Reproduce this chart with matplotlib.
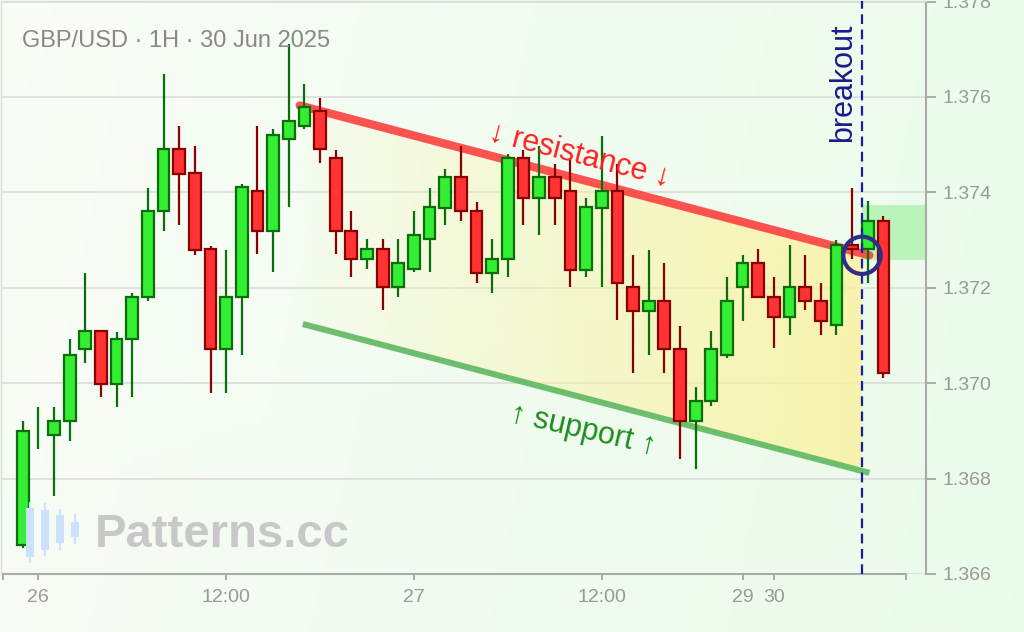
import numpy as np
import matplotlib
matplotlib.use('Agg')
import matplotlib.pyplot as plt
from matplotlib.patches import Polygon, Rectangle
import matplotlib.colors as mcolors

plt.rcParams['font.family'] = ['Liberation Sans', 'DejaVu Sans']
plt.rcParams['lines.scale_dashes'] = False

# ---------------- data ----------------
opens = [1.36661, 1.36900, 1.36891, 1.36920, 1.37071, 1.37110, 1.36999, 1.37092,
         1.37180, 1.37360, 1.37491, 1.37440, 1.37281, 1.37071, 1.37180, 1.37403,
         1.37318, 1.37512, 1.37540, 1.37570, 1.37471, 1.37319, 1.37260, 1.37281,
         1.37201, 1.37239, 1.37302, 1.37368, 1.37432, 1.37361, 1.37230, 1.37260,
         1.37471, 1.37389, 1.37432, 1.37403, 1.37238, 1.37368, 1.37403, 1.37202,
         1.37151, 1.37172, 1.37071, 1.36920, 1.36962, 1.37059, 1.37202, 1.37252,
         1.37181, 1.37139, 1.37202, 1.37172, 1.37121, 1.37289, 1.37282, 1.37340]
highs = [1.36920, 1.36950, 1.36949, 1.37092, 1.37230, 1.37110, 1.37107, 1.37188,
         1.37410, 1.37649, 1.37540, 1.37498, 1.37288, 1.37280, 1.37418, 1.37540,
         1.37532, 1.37711, 1.37628, 1.37598, 1.37489, 1.37360, 1.37302, 1.37302,
         1.37302, 1.37360, 1.37410, 1.37448, 1.37498, 1.37380, 1.37302, 1.37481,
         1.37489, 1.37498, 1.37460, 1.37469, 1.37389, 1.37519, 1.37460, 1.37268,
         1.37280, 1.37251, 1.37120, 1.36991, 1.37109, 1.37223, 1.37268, 1.37281,
         1.37223, 1.37289, 1.37268, 1.37209, 1.37301, 1.37410, 1.37381, 1.37350]
lows = [1.36655, 1.36863, 1.36763, 1.36879, 1.37043, 1.36971, 1.36950, 1.36971,
        1.37172, 1.37319, 1.37332, 1.37269, 1.36980, 1.36980, 1.37059, 1.37270,
        1.37232, 1.37369, 1.37533, 1.37462, 1.37270, 1.37223, 1.37240, 1.37153,
        1.37181, 1.37232, 1.37232, 1.37332, 1.37340, 1.37211, 1.37190, 1.37223,
        1.37332, 1.37311, 1.37332, 1.37202, 1.37223, 1.37202, 1.37132, 1.37022,
        1.37060, 1.37022, 1.36842, 1.36821, 1.36952, 1.37052, 1.37131, 1.37181,
        1.37073, 1.37102, 1.37153, 1.37102, 1.37102, 1.37261, 1.37210, 1.37010]
closes = [1.36900, 1.36900, 1.36921, 1.37059, 1.37110, 1.36999, 1.37093, 1.37181,
          1.37361, 1.37491, 1.37439, 1.37280, 1.37071, 1.37181, 1.37411, 1.37318,
          1.37520, 1.37550, 1.37579, 1.37490, 1.37318, 1.37260, 1.37281, 1.37201,
          1.37252, 1.37311, 1.37369, 1.37432, 1.37360, 1.37230, 1.37260, 1.37471,
          1.37389, 1.37432, 1.37389, 1.37238, 1.37369, 1.37403, 1.37209, 1.37151,
          1.37172, 1.37071, 1.36920, 1.36962, 1.37071, 1.37172, 1.37252, 1.37181,
          1.37139, 1.37202, 1.37172, 1.37130, 1.37289, 1.37282, 1.37340, 1.37022]

x_tick_pos = [1, 13, 25, 37, 46, 48]
x_tick_labels = ['26', '12:00', '27', '12:00', '29', '30']
y_ticks = [1.366, 1.368, 1.370, 1.372, 1.374, 1.376, 1.378]

resistance_x = [17.7, 54.1]
resistance_y = [1.37582, 1.37268]
support_x = [17.9, 54.1]
support_y = [1.37124, 1.36812]
channel_x = [17.85, 53.63]
breakout_x = 53.63
breakout_price = 1.37268
target_low, target_high = 1.37258, 1.37373

title = 'GBP/USD · 1H · 30 Jun 2025'

# ---------------- figure ----------------
W, H = 1024, 632
fig = plt.figure(figsize=(W / 100, H / 100), dpi=100)

# background gradient
bg = fig.add_axes([0, 0, 1, 1], zorder=-10)
gx = np.linspace(0, 1, 256)[None, :]
gy = np.linspace(0, 1, 64)[:, None]
c_left = np.array([0.975, 0.993, 0.968])
c_right = np.array([0.925, 0.990, 0.925])
img = c_left[None, None, :] * (1 - gx[..., None]) + c_right[None, None, :] * gx[..., None]
img = img * np.ones((64, 1, 1))
img = img - 0.006 * gy[..., None]
bg.imshow(np.clip(img, 0, 1), aspect='auto', extent=[0, 1, 0, 1], origin='upper')
bg.axis('off')

ax_l, ax_r = 1, 926
ax_t, ax_b = 1.5, 574
ax = fig.add_axes([ax_l / W, 1 - ax_b / H, (ax_r - ax_l) / W, (ax_b - ax_t) / H])
ax.set_facecolor('none')

o = np.array(opens); h = np.array(highs); l = np.array(lows); c = np.array(closes)
idx = np.arange(len(o))
up = c >= o

# channel gradient fill
def lin(xs, ys, x):
    return ys[0] + (ys[1] - ys[0]) * (x - xs[0]) / (xs[1] - xs[0])
x0, x1 = channel_x
poly_pts = [(x0, lin(resistance_x, resistance_y, x0)), (x1, lin(resistance_x, resistance_y, x1)),
            (x1, lin(support_x, support_y, x1)), (x0, lin(support_x, support_y, x0))]
rgba = np.zeros((1, 256, 4))
rgba[..., :3] = mcolors.to_rgb('#fbf19c')
rgba[..., 3] = 0.03 + 0.75 * np.linspace(0, 1, 256) ** 0.9
poly = Polygon(poly_pts, closed=True, facecolor='none', edgecolor='none')
ax.add_patch(poly)
im = ax.imshow(rgba, extent=[x0, x1, 1.366, 1.378], aspect='auto', origin='lower',
               zorder=1, interpolation='bilinear')
im.set_clip_path(poly)

# target zone
ax.add_patch(Rectangle((breakout_x, target_low), 57.72 - breakout_x, target_high - target_low,
                       facecolor='#b2f3b2', edgecolor='none', alpha=0.85, zorder=1.5))

# trend lines
ax.plot(resistance_x, resistance_y, color='#ff3b3b', lw=6, alpha=0.88,
        solid_capstyle='round', zorder=2)
ax.plot(support_x, support_y, color='#66bb66', lw=4.4, alpha=0.95,
        solid_capstyle='butt', zorder=2)

# candles
green_f, green_e = '#33ee33', '#0a6e0a'
red_f, red_e = '#ff3333', '#880000'
ax.vlines(idx[up], l[up], h[up], color=green_e, lw=1.6, zorder=3)
ax.vlines(idx[~up], l[~up], h[~up], color=red_e, lw=1.6, zorder=3)
body_b = np.minimum(o, c)
body_h = np.abs(c - o)
has_body = body_h > 0
m = up & has_body
ax.bar(idx[m], body_h[m], bottom=body_b[m], width=0.75, color=green_f,
       edgecolor=green_e, linewidth=1.6, zorder=4)
m = (~up) & has_body
ax.bar(idx[m], body_h[m], bottom=body_b[m], width=0.75, color=red_f,
       edgecolor=red_e, linewidth=1.6, zorder=4)

# breakout marker
ax.axvline(breakout_x, color='#1c1c9e', lw=1.6, dashes=(7, 4), zorder=5)
ax.scatter([breakout_x], [breakout_price], s=720, facecolors='none',
           edgecolors='#2e2e8a', linewidths=3, zorder=6)

# labels
ax.text(35.6, 1.37477, '↓ resistance ↓', color='#ff2222', fontsize=22,
        rotation=-14.5, ha='center', va='center', zorder=7,
        rotation_mode='anchor')
ax.text(35.8, 1.36902, '↑ support ↑', color='#1e8c1e', fontsize=22,
        rotation=-13, ha='center', va='center', zorder=7,
        rotation_mode='anchor')
ax.text(52.4, 1.37630, 'breakout', color='#1a1a8c', fontsize=22,
        rotation=90, ha='center', va='center', zorder=7)

# axes styling
ax.set_xlim(-1.387, 57.72)
ax.set_ylim(1.366, 1.378)
ax.yaxis.tick_right()
ax.set_yticks(y_ticks)
ax.set_yticklabels([f'{v:.3f}' for v in y_ticks])
ax.set_xticks(x_tick_pos)
ax.set_xticklabels(x_tick_labels)
ax.set_xticks([-1.284, 56.44], minor=True)
ax.tick_params(axis='x', which='both', length=4, width=1.4, color='#aaaaaa',
               labelsize=14, labelcolor='#999999', pad=7)
ax.tick_params(axis='y', which='both', length=7, width=1.4, color='#aaaaaa',
               labelsize=14, labelcolor='#999999', pad=5)
ax.grid(axis='y', color='#dcdcdc', lw=1.2, zorder=0)
ax.set_axisbelow(True)
for s in ['left', 'top']:
    ax.spines[s].set_color('#dddddd')
    ax.spines[s].set_linewidth(1.0)
ax.spines['right'].set_color('#aaaaaa')
ax.spines['right'].set_linewidth(1.5)
ax.spines['bottom'].set_color('#aaaaaa')
ax.spines['bottom'].set_linewidth(1.5)
ax.spines['bottom'].set_bounds(-1.284, 56.44)

# title
fig.text(22 / W, 1 - 41 / H, title, fontsize=17, color='#888888', va='center', ha='left')

# watermark
wm_color = '#cde2fa'
wm = [(29.5, 503, 562, 508, 557), (44.5, 504, 555, 510, 550),
      (60, 510, 549, 515, 543), (75, 515, 543, 522, 537)]
for cx, wt, wb, bt, bb in wm:
    fig.add_artist(plt.Line2D([cx / W, cx / W], [1 - wt / H, 1 - wb / H],
                              transform=fig.transFigure, color=wm_color, lw=1.5, zorder=8))
    fig.add_artist(Rectangle(((cx - 4) / W, 1 - bb / H), 8 / W, (bb - bt) / H,
                             transform=fig.transFigure, facecolor=wm_color,
                             edgecolor='none', zorder=8))
fig.text(95 / W, 1 - 535 / H, 'Patterns.cc', fontsize=34, fontweight='bold',
         color='#c8c8c8', va='center', ha='left', zorder=8)

fig.savefig('out.png', dpi=100)
